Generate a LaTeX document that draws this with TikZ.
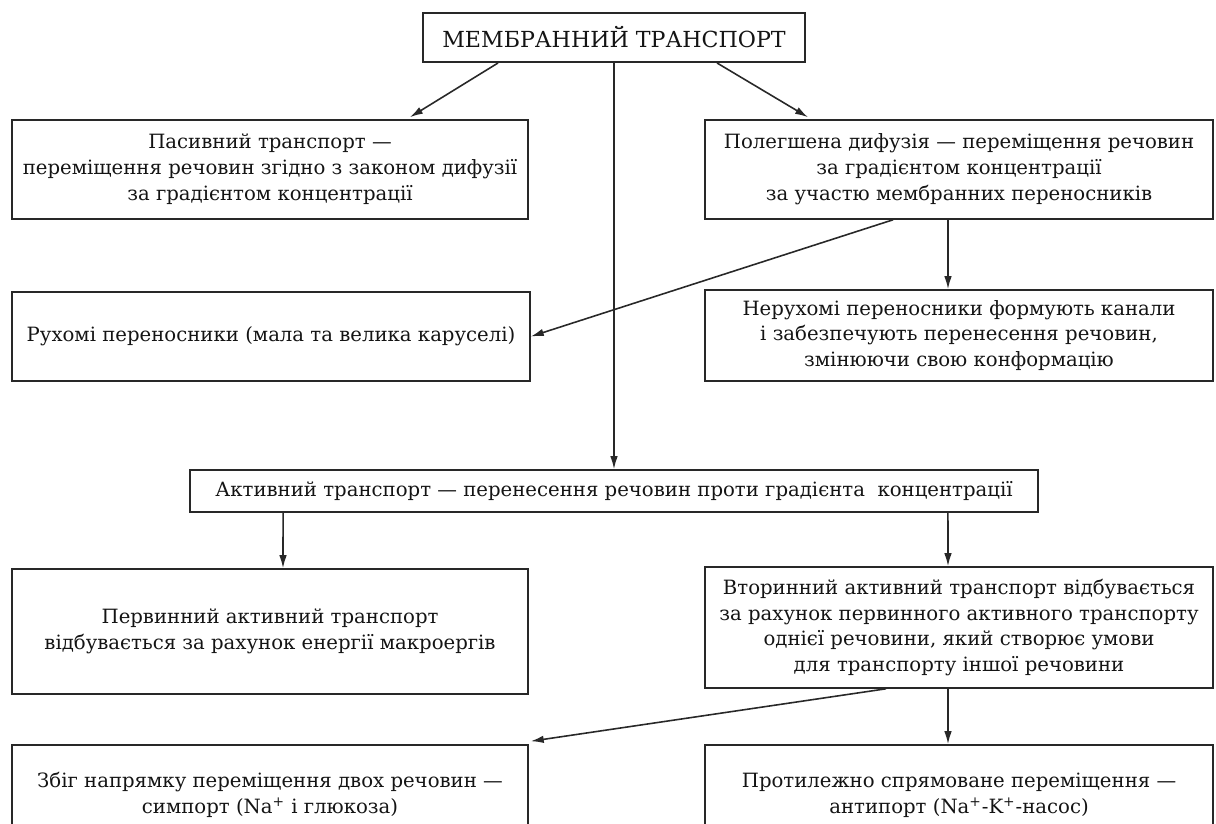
\documentclass[tikz,border=0pt]{standalone}
\usepackage{fontspec}
\setmainfont{DejaVu Serif}
\usepackage{xcolor}
\usetikzlibrary{arrows.meta, positioning, calc}
\definecolor{linegray}{RGB}{40,40,40}
\definecolor{textblack}{RGB}{20,20,20}
\tikzset{
  box/.style={
    draw=linegray,
    line width=0.9pt,
    align=center,
    inner sep=2pt,
    text=textblack,
    font=\fontsize{11.2}{14.7}\selectfont
  },
  titlebox/.style={
    box,
    line width=1.1pt,
    font=\fontsize{12.6}{15}\selectfont
  },
  arrow/.style={-{Latex[length=2.6mm,width=1.5mm]}, line width=0.9pt, draw=linegray}
}

\begin{document}
\begin{tikzpicture}[x=0.02cm, y=-0.02cm]
\useasboundingbox (0,0) rectangle (1216,823);

\node[titlebox, minimum width=7.64cm, minimum height=0.98cm] (memb) at (614,37.5)
{МЕМБРАННИЙ ТРАНСПОРТ};

\node[box, minimum width=10.32cm, minimum height=1.98cm] (passive) at (270,169.5)
{Пасивний транспорт —\\переміщення речовин згідно з законом дифузії\\за градієнтом концентрації};

\node[box, minimum width=10.16cm, minimum height=1.98cm] (facil) at (959,169.5)
{Полегшена дифузія — переміщення речовин\\за градієнтом концентрації\\за участю мембранних переносників};

\node[box, minimum width=10.36cm, minimum height=1.78cm] (mobile) at (271,336.5)
{Рухомі переносники (мала та велика каруселі)};

\node[box, minimum width=10.16cm, minimum height=1.82cm] (fixed) at (959,335.5)
{Нерухомі переносники формують канали\\і забезпечують перенесення речовин,\\змінюючи свою конформацію};

\node[box, minimum width=16.96cm, minimum height=0.84cm] (active) at (614,491)
{Активний транспорт — перенесення речовин проти градієнта~ концентрації};

\node[box, minimum width=10.32cm, minimum height=2.5cm] (primary) at (270,631.5)
{Первинний активний транспорт\\відбувається за рахунок енергії макроергів};

\node[box, minimum width=10.16cm, minimum height=2.42cm] (secondary) at (959,627.5)
{Вторинний активний транспорт відбувається\\за рахунок первинного активного транспорту\\однієї речовини, який створює умови\\для транспорту іншої речовини};

\node[box, minimum width=10.32cm, minimum height=2.0cm] (symport) at (270,795)
{Збіг напрямку переміщення двох речовин —\\симпорт (Na\textsuperscript{+} і глюкоза)};

\node[box, minimum width=10.16cm, minimum height=2.0cm] (antiport) at (959,795)
{Протилежно спрямоване переміщення —\\антипорт (Na\textsuperscript{+}-K\textsuperscript{+}-насос)};

% connectors
\draw[arrow] ([xshift=-2.32cm]memb.south) -- ([xshift=2.8cm,yshift=0.04cm]passive.north);
\draw[arrow] ([xshift=2.06cm]memb.south) -- ([xshift=-3.02cm,yshift=0.04cm]facil.north);
\draw[arrow] (memb) -- (active);
\draw[arrow] ([xshift=-1.32cm]facil.south) -- (mobile.east);
\draw[arrow] ([xshift=-0.22cm]facil.south) -- ([xshift=-0.22cm]fixed.north);
\draw[arrow] ([xshift=-6.62cm]active.south) -- ([xshift=0.26cm]primary.north);
\draw[arrow] ([xshift=6.68cm]active.south) -- ([xshift=-0.22cm]secondary.north);
\draw[arrow] ([xshift=-1.46cm]secondary.south) -- ([xshift=0.04cm,yshift=0.06cm]symport.north east);
\draw[arrow] ([xshift=-0.22cm]secondary.south) -- ([xshift=-0.22cm]antiport.north);

\end{tikzpicture}
\end{document}
